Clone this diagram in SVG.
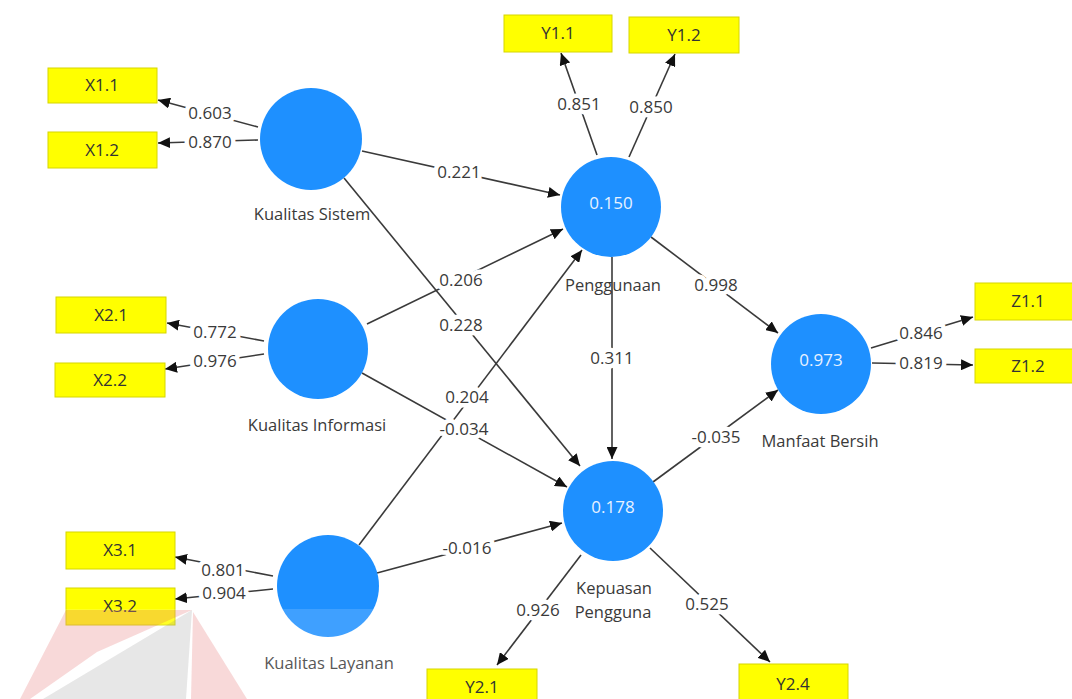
<svg xmlns="http://www.w3.org/2000/svg" width="1072" height="699" viewBox="0 0 1072 699">
<style>
.ind rect{fill:#ffff00;stroke:#d6d600;stroke-width:1}
.ind text{font-family:"Open Sans","Noto Sans",sans-serif;font-size:17px;fill:#333;text-anchor:middle}
.lv circle{fill:#1e90ff}
.lv text.v{font-family:"Open Sans","Noto Sans",sans-serif;font-size:17px;fill:#e8f2ff;text-anchor:middle}
.lv text.n{font-family:"Open Sans","Noto Sans",sans-serif;font-size:16.5px;fill:#3a3a3a;text-anchor:middle}
#connectors line{stroke:#3a3a3a;stroke-width:1.6;marker-end:url(#arr)}
#connectors text{font-family:"Open Sans","Noto Sans",sans-serif;font-size:17px;fill:#3a3a3a;text-anchor:middle;stroke:#fff;stroke-width:9;paint-order:stroke;stroke-linejoin:round}
</style>
<defs>
<marker id="arr" markerUnits="userSpaceOnUse" markerWidth="13" markerHeight="11" refX="12" refY="5.5" orient="auto">
<path d="M0,0 L12,5.5 L0,11 z" fill="#111"/>
</marker>
</defs>
<rect width="1072" height="699" fill="#fff"/>

<g id="connectors">
<line x1="258" y1="127" x2="158" y2="100"/>
<line x1="258" y1="140" x2="158" y2="143"/>
<line x1="264" y1="341" x2="167" y2="323"/>
<line x1="264" y1="354" x2="165" y2="369"/>
<line x1="273" y1="576" x2="175" y2="557"/>
<line x1="273" y1="589" x2="175" y2="599"/>
<line x1="597" y1="155" x2="561" y2="53"/>
<line x1="629" y1="157" x2="675" y2="54"/>
<line x1="581" y1="555" x2="497" y2="665"/>
<line x1="650" y1="548" x2="770" y2="662"/>
<line x1="871" y1="348" x2="973" y2="317"/>
<line x1="872" y1="363" x2="973" y2="365"/>
<line x1="362" y1="151" x2="560" y2="195"/>
<line x1="344" y1="178" x2="580" y2="466"/>
<line x1="367" y1="324" x2="563" y2="229"/>
<line x1="362" y1="373" x2="567" y2="487"/>
<line x1="359" y1="545" x2="582" y2="250"/>
<line x1="377" y1="573" x2="562" y2="523"/>
<line x1="612" y1="257" x2="612" y2="459"/>
<line x1="651" y1="237" x2="778" y2="333"/>
<line x1="653" y1="482" x2="778" y2="390"/>
<text x="210" y="119">0.603</text>
<text x="210" y="148">0.870</text>
<text x="215" y="338">0.772</text>
<text x="215" y="367">0.976</text>
<text x="223" y="576">0.801</text>
<text x="224" y="599">0.904</text>
<text x="579" y="110">0.851</text>
<text x="651" y="113">0.850</text>
<text x="459" y="178">0.221</text>
<text x="461" y="286">0.206</text>
<text x="461" y="331">0.228</text>
<text x="467" y="403">0.204</text>
<text x="464" y="435">-0.034</text>
<text x="612" y="364">0.311</text>
<text x="467" y="554">-0.016</text>
<text x="538" y="616">0.926</text>
<text x="707" y="610">0.525</text>
<text x="716" y="291">0.998</text>
<text x="716" y="443">-0.035</text>
<text x="921" y="339">0.846</text>
<text x="921" y="369">0.819</text>
</g>

<g id="X1.1" class="ind"><rect x="48" y="68" width="109" height="35"/><text x="102" y="91">X1.1</text></g>
<g id="X1.2" class="ind"><rect x="48" y="132" width="109" height="36"/><text x="102" y="156">X1.2</text></g>
<g id="X2.1" class="ind"><rect x="56" y="297" width="110" height="36"/><text x="111" y="321">X2.1</text></g>
<g id="X2.2" class="ind"><rect x="55" y="363" width="110" height="34"/><text x="110" y="386">X2.2</text></g>
<g id="X3.1" class="ind"><rect x="66" y="532" width="109" height="37"/><text x="120" y="556">X3.1</text></g>
<g id="X3.2" class="ind"><rect x="66" y="588" width="109" height="37"/><text x="120" y="612">X3.2</text></g>
<g id="Y1.1" class="ind"><rect x="504" y="15" width="108" height="37"/><text x="558" y="39">Y1.1</text></g>
<g id="Y1.2" class="ind"><rect x="629" y="17" width="110" height="36"/><text x="684" y="41">Y1.2</text></g>
<g id="Y2.1" class="ind"><rect x="427" y="669" width="110" height="36"/><text x="482" y="693">Y2.1</text></g>
<g id="Y2.4" class="ind"><rect x="739" y="664" width="109" height="40"/><text x="793" y="690">Y2.4</text></g>
<g id="Z1.1" class="ind"><rect x="975" y="283" width="110" height="37"/><text x="1028" y="307">Z1.1</text></g>
<g id="Z1.2" class="ind"><rect x="975" y="349" width="110" height="34"/><text x="1028" y="372">Z1.2</text></g>

<g id="KualitasSistem" class="lv"><circle cx="311" cy="139" r="51"/><text class="n" x="312" y="220">Kualitas Sistem</text></g>
<g id="KualitasInformasi" class="lv"><circle cx="318" cy="349" r="50"/><text class="n" x="317" y="431">Kualitas Informasi</text></g>
<g id="KualitasLayanan" class="lv"><circle cx="328" cy="586" r="51"/><text class="n" x="329" y="669">Kualitas Layanan</text></g>
<g id="Penggunaan" class="lv"><circle cx="611" cy="207" r="50"/><text class="v" x="611" y="209">0.150</text><text class="n" x="613" y="291">Penggunaan</text></g>
<g id="KepuasanPengguna" class="lv"><circle cx="613" cy="511" r="50"/><text class="v" x="613" y="513">0.178</text><text class="n" x="614" y="594">Kepuasan</text><text class="n" x="613" y="618">Pengguna</text></g>
<g id="ManfaatBersih" class="lv"><circle cx="821" cy="364" r="50"/><text class="v" x="821" y="366">0.973</text><text class="n" x="820" y="447">Manfaat Bersih</text></g>

<g id="watermark">
<rect x="0" y="609" width="400" height="90" fill="#fff" opacity="0.15"/>
<polygon points="66,610 192,610 97,652 30,699 20,699" fill="#e05050" opacity="0.22"/>
<polygon points="192,610 186,699 43,699" fill="#888" opacity="0.2"/>
<polygon points="193,612 247,699 191,699" fill="#e05050" opacity="0.22"/>
</g>
</svg>
